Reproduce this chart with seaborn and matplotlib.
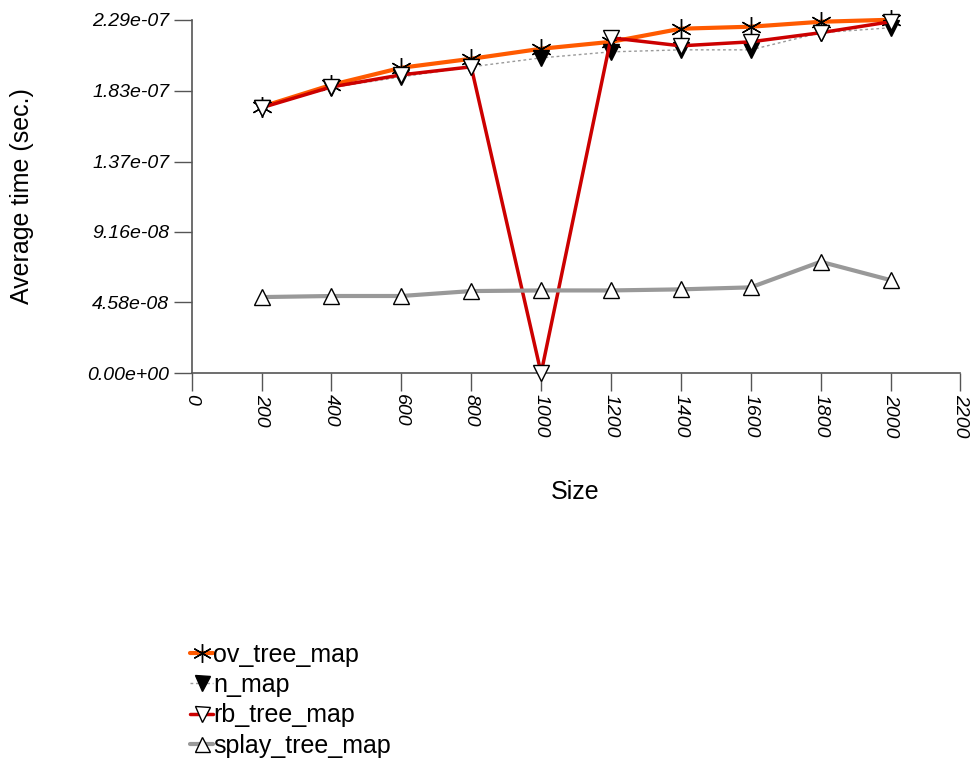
import matplotlib
matplotlib.use("Agg")
import matplotlib.pyplot as plt
import seaborn as sns
import pandas as pd
import numpy as np

sizes = [200, 400, 600, 800, 1000, 1200, 1400, 1600, 1800, 2000]
ov_tree_map = [1.726e-7, 1.868e-7, 1.979e-7, 2.037e-7, 2.102e-7, 2.147e-7, 2.232e-7, 2.245e-7, 2.277e-7, 2.290e-7]
n_map = [1.720e-7, 1.850e-7, 1.920e-7, 1.985e-7, 2.043e-7, 2.082e-7, 2.095e-7, 2.095e-7, 2.206e-7, 2.238e-7]
rb_tree_map = [1.720e-7, 1.855e-7, 1.933e-7, 1.985e-7, 0.0, 2.173e-7, 2.121e-7, 2.147e-7, 2.206e-7, 2.277e-7]
splay_tree_map = [4.93e-8, 5.00e-8, 5.00e-8, 5.32e-8, 5.36e-8, 5.36e-8, 5.43e-8, 5.56e-8, 7.22e-8, 6.03e-8]

series_names = ["ov_tree_map", "n_map", "rb_tree_map", "splay_tree_map"]
series_values = [ov_tree_map, n_map, rb_tree_map, splay_tree_map]
x_ticks = [0, 200, 400, 600, 800, 1000, 1200, 1400, 1600, 1800, 2000, 2200]
y_ticks = [0.0, 4.58e-8, 9.16e-8, 1.37e-7, 1.83e-7, 2.29e-7]

rows = []
for name, vals in zip(series_names, series_values):
    for s, v in zip(sizes, vals):
        rows.append({"Size": s, "time": v, "series": name})
df = pd.DataFrame(rows)

sns.set_style("white")
plt.rcParams["font.family"] = ["Liberation Sans", "DejaVu Sans"]
plt.rcParams["text.color"] = "black"
plt.rcParams["axes.labelcolor"] = "black"
plt.rcParams["xtick.labelcolor"] = "black"
plt.rcParams["ytick.labelcolor"] = "black"

fig = plt.figure(figsize=(9.78, 7.6), dpi=100)
ax = fig.add_axes([0.196, 0.509, 0.786, 0.465])

asterisk = (6, 2, 0)
styles = {
    "ov_tree_map": dict(color="#FF5A00", lw=3, ls="-", marker=asterisk, mfc="black", mec="black", ms=15, mew=1.0, z=3),
    "n_map": dict(color="#999999", lw=1, ls=(0, (2, 2)), marker="v", mfc="black", mec="black", ms=12, mew=1, z=4),
    "rb_tree_map": dict(color="#CC0000", lw=2.5, ls="-", marker="v", mfc="white", mec="black", ms=12, mew=1, z=5),
    "splay_tree_map": dict(color="#999999", lw=3, ls="-", marker="^", mfc="white", mec="black", ms=12, mew=1, z=6),
}

handles = []
for name in series_names:
    st = styles[name]
    sub = df[df["series"] == name]
    sns.lineplot(data=sub, x="Size", y="time", ax=ax, color=st["color"], lw=st["lw"],
                 linestyle=st["ls"], marker=st["marker"], markerfacecolor=st["mfc"],
                 markeredgecolor=st["mec"], markersize=st["ms"], markeredgewidth=st["mew"],
                 zorder=st["z"], label=name, legend=False)
    h = plt.Line2D([], [], color=st["color"], lw=st["lw"], linestyle=st["ls"], marker=st["marker"],
                   markerfacecolor=st["mfc"], markeredgecolor=st["mec"], markersize=st["ms"] * 0.9,
                   markeredgewidth=st["mew"])
    handles.append(h)

ax.set_xlim(0, 2200)
ax.set_ylim(0, 2.29e-7)
ax.set_xticks(x_ticks)
ax.set_xticklabels([str(t) for t in x_ticks], rotation=-90, fontstyle="italic", fontsize=14,
                   ha="center", va="top", color="black")
ax.set_yticks(y_ticks)
ax.set_yticklabels(["%.2e" % t for t in y_ticks], fontstyle="italic", fontsize=14, color="black")
ax.tick_params(axis="both", direction="out", length=13, width=1, color="#555555", left=True, bottom=True)
ax.tick_params(axis="x", pad=2)
ax.tick_params(axis="y", pad=3)
for sp in ["top", "right"]:
    ax.spines[sp].set_visible(False)
for sp in ["left", "bottom"]:
    ax.spines[sp].set_color("#555555")
    ax.spines[sp].set_linewidth(1.2)
ax.set_xlabel("Size", fontsize=18, color="black")
ax.set_ylabel("Average time (sec.)", fontsize=18, color="black")
ax.xaxis.set_label_coords((575 - 192) / 768, -(492 - 373) / 353, transform=ax.transAxes)
ax.yaxis.set_label_coords(-(192 - 22) / 768, 0.5, transform=ax.transAxes)
ax.xaxis.label.set_va("center")
ax.yaxis.label.set_va("center")
for l in ax.lines:
    l.set_clip_on(False)

leg = fig.legend(handles, series_names, loc="lower left", bbox_to_anchor=(0.192, 0.0), frameon=False,
                 fontsize=18, handlelength=0.92, handletextpad=0.0, labelspacing=0.25, borderaxespad=0,
                 borderpad=0.1)
for t in leg.get_texts():
    t.set_color("black")

fig.savefig("out.png", dpi=100)
